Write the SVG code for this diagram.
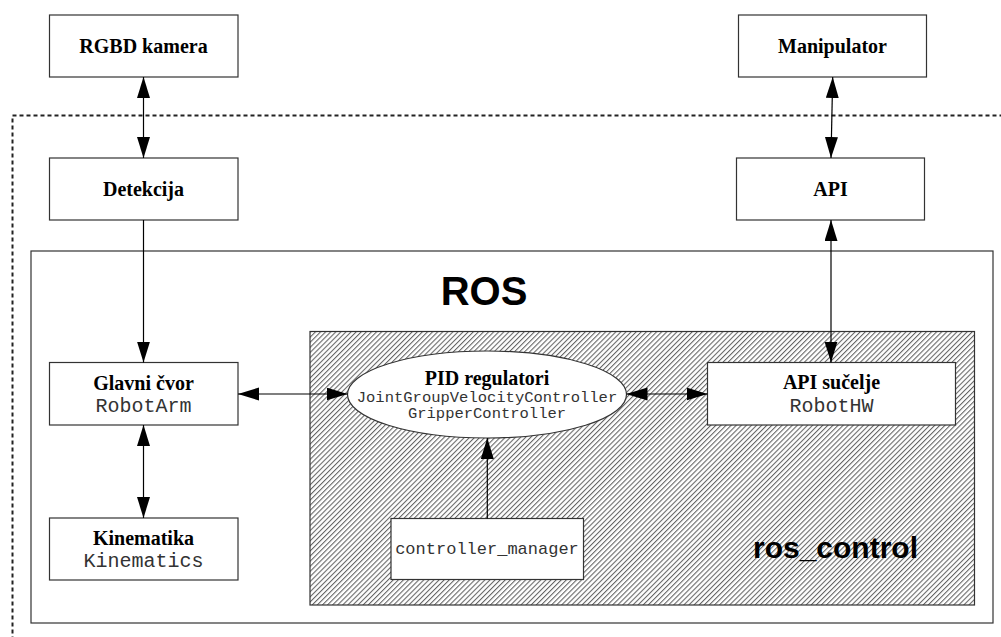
<svg xmlns="http://www.w3.org/2000/svg" width="1001" height="637" viewBox="0 0 1001 637">
<style>
.box{fill:#fff;stroke:#333;stroke-width:1.2}
.t{font-family:"Liberation Serif","Times New Roman",serif;font-weight:bold;font-size:20px;fill:#000;text-anchor:middle}
.m{font-family:"Liberation Mono","Courier New",monospace;font-size:20px;fill:#333;text-anchor:middle}
.ms{font-family:"Liberation Mono","Courier New",monospace;font-size:15.5px;fill:#333;text-anchor:middle}
.mm{font-family:"Liberation Mono","Courier New",monospace;font-size:17px;fill:#333;text-anchor:middle}
.big{font-family:"Liberation Sans",Arial,sans-serif;font-weight:bold;fill:#000;text-anchor:middle}
.c{stroke:#000;stroke-width:1.2;fill:none}
</style>
<defs>
<pattern id="hatch" patternUnits="userSpaceOnUse" width="3.6" height="10" patternTransform="rotate(45)">
<rect width="3.6" height="10" fill="#fff"/>
<line x1="0.6" y1="0" x2="0.6" y2="10" stroke="#222" stroke-width="0.8"/>
</pattern>
<marker id="ah" markerUnits="userSpaceOnUse" markerWidth="21" markerHeight="14" refX="21" refY="6.5" orient="auto-start-reverse">
<path d="M0,0 L21,6.5 L0,13 z" fill="#000"/>
</marker>
</defs>
<rect width="1001" height="637" fill="#fff"/>
<g id="system-boundary">
<rect x="12.5" y="115.5" width="1000" height="540" fill="none" stroke="#222" stroke-width="2" stroke-dasharray="4,3"/>
</g>
<g id="ros">
<rect x="31" y="251" width="962" height="372" fill="#fff" stroke="#333" stroke-width="1.2"/>
<text class="big" x="484" y="305" style="font-size:40px">ROS</text>
</g>
<g id="ros_control">
<rect x="310" y="331.5" width="664.5" height="273.5" fill="url(#hatch)" stroke="#333" stroke-width="1.2"/>
<text class="big" x="835.5" y="558" style="font-size:30px">ros_control</text>
</g>
<g id="rgbd-kamera">
<rect class="box" x="49.5" y="15" width="188.5" height="62"/>
<text class="t" x="143.5" y="53">RGBD kamera</text>
</g>
<g id="detekcija">
<rect class="box" x="49.5" y="158" width="188.5" height="62"/>
<text class="t" x="143.5" y="196">Detekcija</text>
</g>
<g id="manipulator">
<rect class="box" x="738.5" y="15" width="188" height="62"/>
<text class="t" x="832.5" y="53">Manipulator</text>
</g>
<g id="api">
<rect class="box" x="736.5" y="158" width="188" height="62"/>
<text class="t" x="830.5" y="196">API</text>
</g>
<g id="glavni-cvor">
<rect class="box" x="49.5" y="362.5" width="188.5" height="62.5"/>
<text class="t" x="143.5" y="390">Glavni čvor</text>
<text class="m" x="143.5" y="411.5">RobotArm</text>
</g>
<g id="kinematika">
<rect class="box" x="49.5" y="518" width="188.5" height="62"/>
<text class="t" x="143.5" y="545">Kinematika</text>
<text class="m" x="143.5" y="566.5">Kinematics</text>
</g>
<g id="pid-regulatori">
<ellipse cx="487" cy="394.5" rx="139.5" ry="43.5" fill="#fff" stroke="#333" stroke-width="1.2"/>
<text class="t" x="487" y="385">PID regulatori</text>
<text class="ms" x="487" y="401.5">JointGroupVelocityController</text>
<text class="ms" x="487" y="418">GripperController</text>
</g>
<g id="api-sucelje">
<rect class="box" x="707.5" y="362.5" width="248" height="62.5"/>
<text class="t" x="831.5" y="389">API sučelje</text>
<text class="m" x="831.5" y="411.5">RobotHW</text>
</g>
<g id="controller-manager">
<rect class="box" x="391" y="518.5" width="192.5" height="61"/>
<text class="mm" x="487" y="553.5">controller_manager</text>
</g>
<g id="connectors">
<line class="c" x1="143.5" y1="77" x2="143.5" y2="158" marker-start="url(#ah)" marker-end="url(#ah)"/>
<line class="c" x1="832.7" y1="77" x2="831" y2="158" marker-start="url(#ah)" marker-end="url(#ah)"/>
<line class="c" x1="143.5" y1="220" x2="143.5" y2="362.5" marker-end="url(#ah)"/>
<line class="c" x1="831" y1="220" x2="831" y2="362.5" marker-start="url(#ah)" marker-end="url(#ah)"/>
<line class="c" x1="143.5" y1="425" x2="143.5" y2="518" marker-start="url(#ah)" marker-end="url(#ah)"/>
<line class="c" x1="238" y1="394" x2="347.5" y2="394" marker-start="url(#ah)" marker-end="url(#ah)"/>
<line class="c" x1="626.5" y1="394" x2="707.5" y2="394" marker-start="url(#ah)" marker-end="url(#ah)"/>
<line class="c" x1="487.3" y1="518.5" x2="487.3" y2="438" marker-end="url(#ah)"/>
</g>
</svg>
